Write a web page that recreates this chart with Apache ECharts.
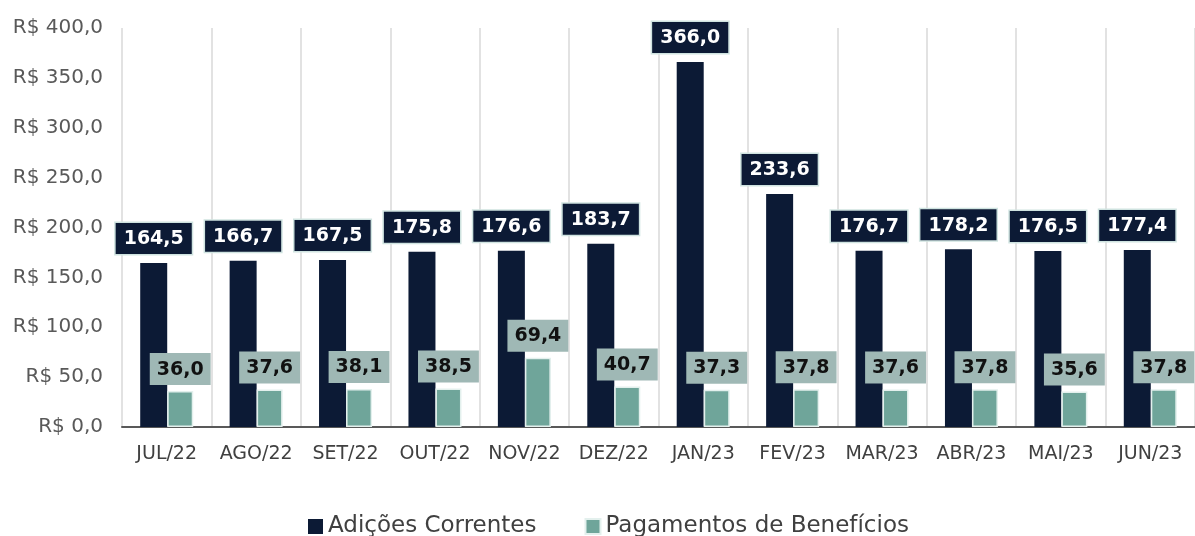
<!DOCTYPE html>
<html>
<head>
<meta charset="utf-8">
<script src="https://cdn.jsdelivr.net/npm/echarts@6/dist/echarts.min.js"></script>
<style>
	html, body { margin: 0; padding: 0; background: #fff; }
	#chart { width: 1195px; height: 536px; }
</style>
</head>
<body>
<div id="chart"></div>
<script type="text/javascript">
	// meses
	var meses = ['JUL/22', 'AGO/22', 'SET/22', 'OUT/22', 'NOV/22', 'DEZ/22', 'JAN/23', 'FEV/23', 'MAR/23', 'ABR/23', 'MAI/23', 'JUN/23'];
	// valores em milhões
	var adicoes = [164.5, 166.7, 167.5, 175.8, 176.6, 183.7, 366.0, 233.6, 176.7, 178.2, 176.5, 177.4];
	var pagamentos = [36.0, 37.6, 38.1, 38.5, 69.4, 40.7, 37.3, 37.8, 37.6, 37.8, 35.6, 37.8];

	var fonte = 'DejaVu Sans';
	function fmt(v) {
		return v.toFixed(1).replace('.', ',');
	}

	var chart = echarts.init(document.getElementById('chart'));
	var option = {
		animation: false,
		textStyle: { fontFamily: fonte },
		legend: {
			left: 303,
			top: 510,
			itemWidth: 15,
			itemHeight: 15,
			itemGap: 48,
			icon: 'rect',
			textStyle: { fontSize: 23, color: '#404040', fontFamily: fonte },
			data: ['Adições Correntes', 'Pagamentos de Benefícios']
		},
		grid: { //margens
			left: 122,
			top: 28,
			width: 1086,
			height: 399
		},
		xAxis: {
			type: 'category',
			data: meses,
			axisLine: { lineStyle: { color: '#595959', width: 2 } },
			axisTick: { show: false },
			axisLabel: { color: '#404040', fontSize: 19, margin: 18, interval: 0, hideOverlap: false },
			splitLine: { show: true, interval: 0, lineStyle: { color: '#d9d9d9', width: 1.5 } }
		},
		yAxis: {
			type: 'value',
			min: 0,
			max: 400,
			interval: 50,
			axisLine: { show: false },
			axisTick: { show: false },
			splitLine: { show: false },
			axisLabel: {
				color: '#595959',
				fontSize: 20,
				margin: 19,
				formatter: function(v) { return 'R$ ' + fmt(v); }
			}
		},
		series: [{
			name: 'Adições Correntes',
			type: 'bar',
			data: adicoes,
			barWidth: 27,
			barGap: '0%',
			itemStyle: { color: '#0c1a35' },
			label: {
				show: true,
				position: 'top',
				distance: 9,
				formatter: function(p) { return fmt(p.value); },
				color: '#ffffff',
				fontWeight: 'bold',
				fontSize: 19,
				backgroundColor: '#0c1a35',
				borderColor: '#cfe3e0',
				borderWidth: 1.5,
				padding: [7, 8, 5, 8]
			}
		}, {
			name: 'Pagamentos de Benefícios',
			type: 'bar',
			data: pagamentos,
			barWidth: 26,
			itemStyle: { color: '#6fa59a', borderColor: '#e3f0ed', borderWidth: 1.5 },
			label: {
				show: true,
				position: 'top',
				distance: 6,
				formatter: function(p) { return fmt(p.value); },
				color: '#111111',
				fontWeight: 'bold',
				fontSize: 19,
				backgroundColor: '#9fb8b5',
				padding: [7, 7, 6, 7]
			}
		}]
	};
	chart.setOption(option);
</script>
</body>
</html>
